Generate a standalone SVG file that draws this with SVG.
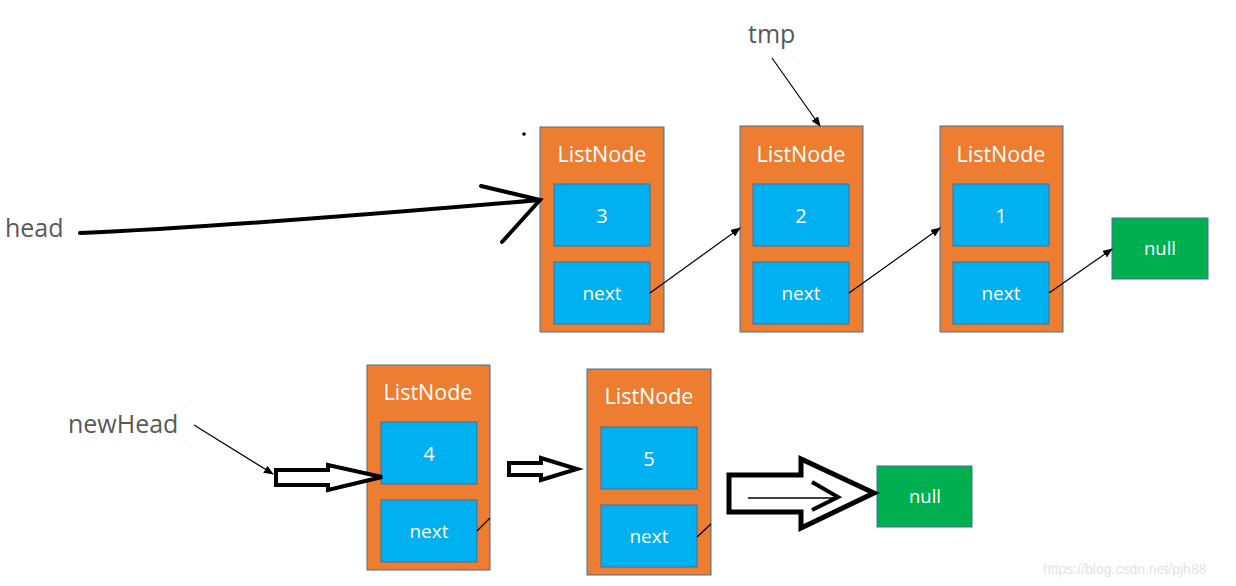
<svg xmlns="http://www.w3.org/2000/svg" width="1236" height="586" viewBox="0 0 1236 586">
<style>
.node{fill:#ED7D31;stroke:#41719C;stroke-width:1}
.box{fill:#00B0F0;stroke:#41719C;stroke-width:1}
.nul{fill:#00B050;stroke:#41719C;stroke-width:1}
.t{font-family:"Open Sans","Liberation Sans",sans-serif;fill:#fff;text-anchor:middle}
.ln{font-size:21.5px}
.v{font-size:20px}
.nx{font-size:19px}
.nl{font-size:18.5px}
.lbl{font-family:"Open Sans","Liberation Sans",sans-serif;fill:#595959;font-size:25px}
.thin{stroke:#000;stroke-width:1.2;fill:none}
.thick{stroke:#000;stroke-width:4;fill:none;stroke-linecap:round}
.hollow{stroke:#000;fill:#fff;stroke-linejoin:miter}
</style>
<defs>
<marker id="ah" markerWidth="10" markerHeight="8" refX="9" refY="4" orient="auto" markerUnits="userSpaceOnUse">
<path d="M0,0 L10,4 L0,8 Z" fill="#000"/>
</marker>
</defs>
<rect width="1236" height="586" fill="#fff"/>

<g id="node1">
<rect class="node" x="540" y="127" width="124" height="205"/>
<text class="t ln" x="602" y="162">ListNode</text>
<rect class="box" x="554" y="184" width="96" height="62"/>
<text class="t v" x="602" y="223">3</text>
<rect class="box" x="554" y="262" width="96" height="62"/>
<text class="t nx" x="602" y="300">next</text>
</g>
<g id="node2">
<rect class="node" x="740" y="126" width="123" height="206"/>
<text class="t ln" x="801" y="162">ListNode</text>
<rect class="box" x="753" y="184" width="96" height="62"/>
<text class="t v" x="801" y="223">2</text>
<rect class="box" x="753" y="262" width="96" height="62"/>
<text class="t nx" x="801" y="300">next</text>
</g>
<g id="node3">
<rect class="node" x="940" y="126" width="123" height="206"/>
<text class="t ln" x="1001" y="162">ListNode</text>
<rect class="box" x="953" y="184" width="96" height="62"/>
<text class="t v" x="1001" y="223">1</text>
<rect class="box" x="953" y="262" width="96" height="62"/>
<text class="t nx" x="1001" y="300">next</text>
</g>
<g id="null1">
<rect class="nul" x="1112" y="218" width="96" height="61"/>
<text class="t nl" x="1160" y="255">null</text>
</g>
<g id="node4">
<rect class="node" x="367" y="365" width="123" height="205"/>
<text class="t ln" x="428" y="400">ListNode</text>
<rect class="box" x="381" y="422" width="96" height="62"/>
<text class="t v" x="429" y="461">4</text>
<rect class="box" x="381" y="500" width="96" height="62"/>
<text class="t nx" x="429" y="538">next</text>
</g>
<g id="node5">
<rect class="node" x="587" y="369" width="124" height="206"/>
<text class="t ln" x="649" y="404">ListNode</text>
<rect class="box" x="601" y="427" width="96" height="62"/>
<text class="t v" x="649" y="466">5</text>
<rect class="box" x="601" y="505" width="96" height="62"/>
<text class="t nx" x="649" y="543">next</text>
</g>
<g id="null2">
<rect class="nul" x="877" y="466" width="95" height="61"/>
<text class="t nl" x="925" y="503">null</text>
</g>

<g id="labels">
<text class="lbl" x="5" y="237">head</text>
<text class="lbl" x="748" y="43">tmp</text>
<text class="lbl" x="68" y="433">newHead</text>
</g>

<g id="connectors">
<line class="thin" x1="650" y1="293" x2="740" y2="228" marker-end="url(#ah)"/>
<line class="thin" x1="849" y1="293" x2="940" y2="228" marker-end="url(#ah)"/>
<line class="thin" x1="1049" y1="293" x2="1112" y2="249" marker-end="url(#ah)"/>
<line class="thin" x1="477" y1="531" x2="490" y2="518"/>
<line class="thin" x1="697" y1="537" x2="711" y2="524"/>
<line class="thin" x1="772" y1="58" x2="820" y2="126" marker-end="url(#ah)"/>
<line class="thin" x1="194" y1="425" x2="273" y2="474" marker-end="url(#ah)"/>
<path class="thick" d="M80,233 C200,228 400,212 540,200"/>
<path class="thick" d="M481,186 L540,200 L502,242"/>
<path class="hollow" stroke-width="4" d="M276,470 L328,470 L328,465 L382,477 L328,490 L328,485 L276,485 Z"/>
<path class="hollow" stroke-width="4" d="M509,463 L541,463 L541,458 L577,469 L541,480 L541,475 L509,475 Z"/>
<path class="hollow" stroke-width="5" d="M729,475 L801,475 L801,459 L874,493 L801,528 L801,512 L729,512 Z"/>
<line x1="748" y1="498" x2="836" y2="498" stroke="#000" stroke-width="1.5"/>
<path d="M812,482 L838,497 L812,510" stroke="#000" stroke-width="4" fill="none"/>
<circle cx="524" cy="134" r="1.8" fill="#000"/>
</g>

<text x="1043" y="574" font-family="Liberation Sans, sans-serif" font-size="14" fill="#e3e3e3">https://blog.csdn.net/pjh88</text>
</svg>
